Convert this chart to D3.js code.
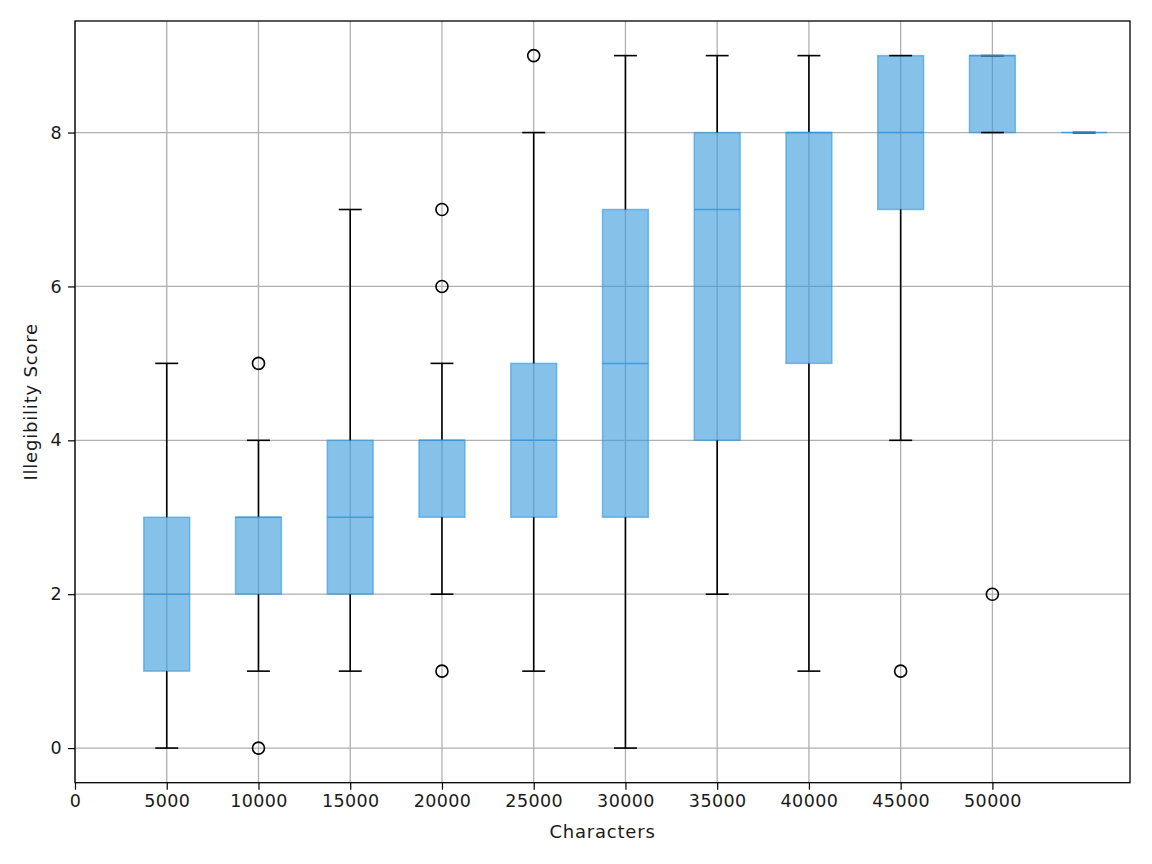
<!DOCTYPE html>
<html>
<head>
<meta charset="utf-8">
<script src="https://cdn.jsdelivr.net/npm/d3@7"></script>
<style>
  html, body { margin: 0; padding: 0; background: #fff; }
  svg { display: block; }
  text { font-family: "DejaVu Sans", sans-serif; fill: #1a1a1a; }
</style>
</head>
<body>
<svg id="chart" width="1152" height="864"></svg>
<script>
// ---- data ----
const positions    = [5000, 10000, 15000, 20000, 25000, 30000, 35000, 40000, 45000, 50000, 55000];
const whiskerLow   = [0, 1, 1, 2, 1, 0, 2, 1, 4, 8, 8];
const q1Values     = [1, 2, 2, 3, 3, 3, 4, 5, 7, 8, 8];
const medianValues = [2, 3, 3, 4, 4, 5, 7, 8, 8, 9, 8];
const q3Values     = [3, 3, 4, 4, 5, 7, 8, 8, 9, 9, 8];
const whiskerHigh  = [5, 4, 7, 5, 8, 9, 9, 9, 9, 9, 8];
const outliers     = [[], [5, 0], [], [7, 6, 1], [9], [], [], [], [1], [2], []];
const xTickValues  = [0, 5000, 10000, 15000, 20000, 25000, 30000, 35000, 40000, 45000, 50000];
const yTickValues  = [0, 2, 4, 6, 8];
const xLabel = "Characters";
const yLabel = "Illegibility Score";

// ---- layout ----
const L = 75, R = 1130, T = 21, B = 782.7;
const boxWidth = 2500, capWidth = 1250;
const svg = d3.select("#chart");

const x = d3.scaleLinear().domain([0, 57500]).range([L, R]);
const y = d3.scaleLinear().domain([-0.45, 9.45]).range([B, T]);

const boxes = positions.map((p, i) => ({
  p, lo: whiskerLow[i], q1: q1Values[i], med: medianValues[i], q3: q3Values[i], hi: whiskerHigh[i], out: outliers[i]
}));

// grid
const grid = svg.append("g");
grid.selectAll("line.gx").data(xTickValues).join("line")
  .attr("x1", d => x(d)).attr("x2", d => x(d)).attr("y1", T).attr("y2", B)
  .attr("stroke", "#b0b0b0").attr("stroke-width", 1.3);
grid.selectAll("line.gy").data(yTickValues).join("line")
  .attr("y1", d => y(d)).attr("y2", d => y(d)).attr("x1", L).attr("x2", R)
  .attr("stroke", "#b0b0b0").attr("stroke-width", 1.3);

const col = "#3498db";
const g = svg.append("g");

// boxes
g.selectAll("rect.box").data(boxes).join("rect")
  .attr("x", d => x(d.p - boxWidth / 2))
  .attr("width", d => x(d.p + boxWidth / 2) - x(d.p - boxWidth / 2))
  .attr("y", d => y(d.q3))
  .attr("height", d => Math.max(0, y(d.q1) - y(d.q3)))
  .attr("fill", col).attr("fill-opacity", 0.6)
  .attr("stroke", col).attr("stroke-opacity", 0.6).attr("stroke-width", 1.5);

// whiskers
g.selectAll("line.wl").data(boxes).join("line")
  .attr("x1", d => x(d.p)).attr("x2", d => x(d.p))
  .attr("y1", d => y(d.q1)).attr("y2", d => y(d.lo))
  .attr("stroke", "#000").attr("stroke-width", 1.6);
g.selectAll("line.wh").data(boxes).join("line")
  .attr("x1", d => x(d.p)).attr("x2", d => x(d.p))
  .attr("y1", d => y(d.q3)).attr("y2", d => y(d.hi))
  .attr("stroke", "#000").attr("stroke-width", 1.6);

// caps
["lo", "hi"].forEach(k => {
  g.selectAll("line.cap" + k).data(boxes).join("line")
    .attr("x1", d => x(d.p - capWidth / 2)).attr("x2", d => x(d.p + capWidth / 2))
    .attr("y1", d => y(d[k])).attr("y2", d => y(d[k]))
    .attr("stroke", "#000").attr("stroke-width", 1.6);
});

// medians
g.selectAll("line.med").data(boxes).join("line")
  .attr("x1", d => x(d.p - boxWidth / 2)).attr("x2", d => x(d.p + boxWidth / 2))
  .attr("y1", d => y(d.med)).attr("y2", d => y(d.med))
  .attr("stroke", col).attr("stroke-opacity", 0.85).attr("stroke-width", 1.5);

// fliers
const fl = boxes.flatMap(d => d.out.map(v => ({ p: d.p, v })));
g.selectAll("circle.fl").data(fl).join("circle")
  .attr("cx", d => x(d.p)).attr("cy", d => y(d.v)).attr("r", 6)
  .attr("fill", "none").attr("stroke", "#000").attr("stroke-width", 1.6);

// axes
const xAxis = d3.axisBottom(x).tickValues(xTickValues).tickFormat(d3.format("d")).tickSize(7).tickPadding(5);
const yAxis = d3.axisLeft(y).tickValues(yTickValues).tickFormat(d3.format("d")).tickSize(7).tickPadding(6);
const gx = svg.append("g").attr("transform", `translate(0,${B})`).call(xAxis);
const gy = svg.append("g").attr("transform", `translate(${L},0)`).call(yAxis);
[gx, gy].forEach(a => {
  a.select(".domain").remove();
  a.selectAll(".tick line").attr("stroke", "#000").attr("stroke-width", 1.2);
  a.selectAll(".tick text").attr("font-size", 17.5).attr("fill", "#1a1a1a")
    .style("font-family", '"DejaVu Sans", sans-serif').style("letter-spacing", "0.4px");
});

// frame
svg.append("rect").attr("x", L).attr("y", T).attr("width", R - L).attr("height", B - T)
  .attr("fill", "none").attr("stroke", "#000").attr("stroke-width", 1.3);

// labels
svg.append("text").attr("x", (L + R) / 2).attr("y", 838).attr("text-anchor", "middle")
  .attr("font-size", 18).style("letter-spacing", "0.8px").text(xLabel);
svg.append("text").attr("transform", `translate(37,${(T + B) / 2}) rotate(-90)`).attr("text-anchor", "middle")
  .attr("font-size", 18).style("letter-spacing", "0.8px").text(yLabel);
</script>
</body>
</html>
